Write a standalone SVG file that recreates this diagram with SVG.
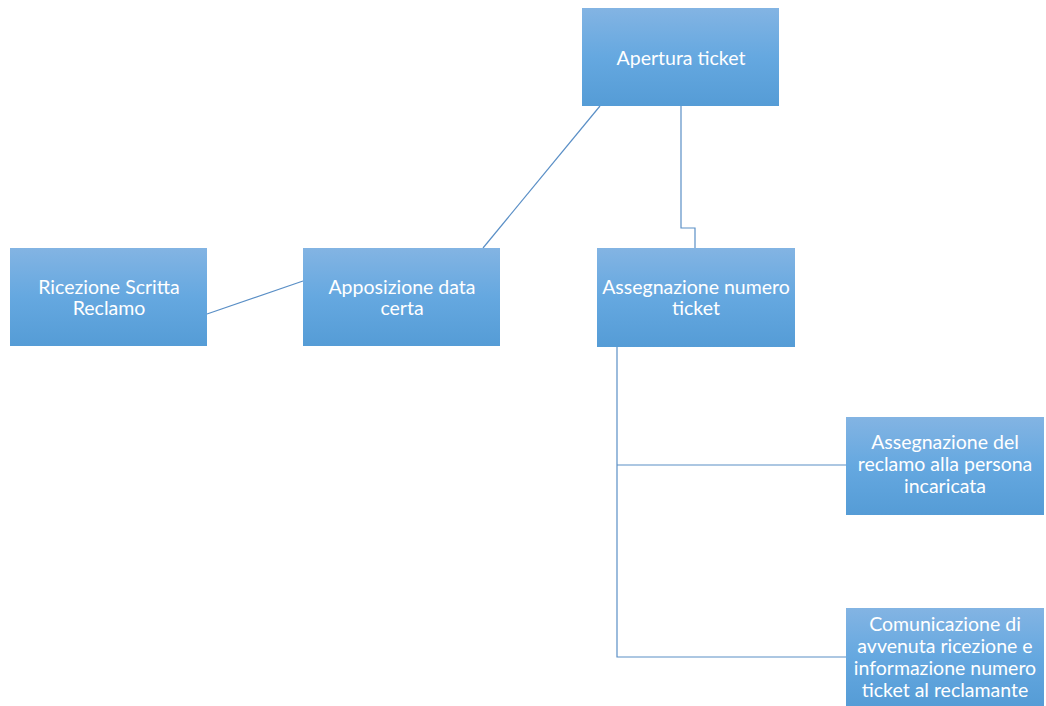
<svg xmlns="http://www.w3.org/2000/svg" width="1046" height="706" viewBox="0 0 1046 706">
<defs>
<linearGradient id="g" x1="0" y1="0" x2="0" y2="1">
<stop offset="0" stop-color="#83B4E3"/>
<stop offset="0.5" stop-color="#65A8E0"/>
<stop offset="1" stop-color="#559CD6"/>
</linearGradient>
</defs>
<style>
.box{fill:url(#g);}
.t{font-family:Lato,"Open Sans",sans-serif;font-size:19.5px;fill:#ffffff;text-anchor:middle;}
.c{fill:none;stroke:#5A8FC6;stroke-width:1.2;}
</style>
<rect width="1046" height="706" fill="#ffffff"/>
<g id="connectors">
<line class="c" x1="207" y1="314" x2="303" y2="281"/>
<line class="c" x1="483" y1="248" x2="600" y2="106"/>
<polyline class="c" points="681,106 681,228 695,228 695,248"/>
<polyline class="c" points="617,347 617,657 846,657"/>
<line class="c" x1="617" y1="465" x2="846" y2="465"/>
</g>
<g id="apertura">
<rect class="box" x="582" y="8" width="197" height="98"/>
<text class="t" x="681" y="65">Apertura ticket</text>
</g>
<g id="ricezione">
<rect class="box" x="10" y="248" width="197" height="98"/>
<text class="t" x="109" y="294">Ricezione Scritta</text>
<text class="t" x="109" y="315">Reclamo</text>
</g>
<g id="apposizione">
<rect class="box" x="303" y="248" width="197" height="98"/>
<text class="t" x="402" y="294">Apposizione data</text>
<text class="t" x="402" y="315">certa</text>
</g>
<g id="assegnazione-numero">
<rect class="box" x="597" y="248" width="198" height="99"/>
<text class="t" x="696" y="294">Assegnazione numero</text>
<text class="t" x="696" y="315">ticket</text>
</g>
<g id="assegnazione-reclamo">
<rect class="box" x="846" y="417" width="198" height="98"/>
<text class="t" x="945" y="449">Assegnazione del</text>
<text class="t" x="945" y="471">reclamo alla persona</text>
<text class="t" x="945" y="493">incaricata</text>
</g>
<g id="comunicazione">
<rect class="box" x="846" y="608" width="198" height="98"/>
<text class="t" x="945" y="631">Comunicazione di</text>
<text class="t" x="945" y="653">avvenuta ricezione e</text>
<text class="t" x="945" y="675">informazione numero</text>
<text class="t" x="945" y="697">ticket al reclamante</text>
</g>
</svg>
